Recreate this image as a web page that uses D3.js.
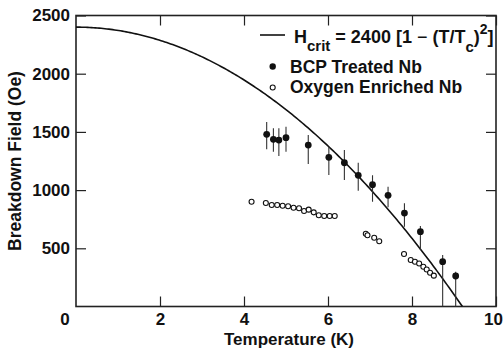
<!DOCTYPE html>
<html><head><meta charset="utf-8">
<script src="https://cdn.jsdelivr.net/npm/d3@7/dist/d3.min.js"></script>
<style>
body{margin:0;background:#fff;}
svg text{font-family:"Liberation Sans",Arial,Helvetica,sans-serif;font-weight:bold;fill:#111;}
</style></head>
<body><svg id="c" width="504" height="354"></svg>
<script>
// BCP treated Nb (filled circles with error bars)
const T_bcp  = [4.54,4.70,4.83,5.00,5.53,6.02,6.39,6.72,7.06,7.43,7.82,8.20,8.73,9.04];
const H_bcp  = [1479,1436,1430,1450,1387,1282,1235,1127,1046,955,803,643,385,262];
const H_bcpHi= [1585,1531,1531,1545,1473,1373,1345,1235,1127,1029,887,692,442,299];
const H_bcpLo= [1350,1330,1293,1330,1224,1130,1087,995,900,852,686,485,0,0];
// Oxygen enriched Nb (open circles)
const T_oxy = [4.18,4.52,4.66,4.79,4.92,5.05,5.18,5.31,5.43,5.54,5.66,5.78,5.91,6.04,6.16,
               6.90,6.94,7.10,7.22,
               7.81,7.97,8.07,8.17,8.27,8.35,8.43,8.52];
const H_oxy = [900,889,872,872,866,861,849,844,820,832,809,784,778,778,778,
               625,612,591,560,
               451,399,385,370,342,318,290,265];
// critical field model
const H0 = 2400, Tc = 9.2;
const xTicks = [2,4,6,8,10];
const yTicks = [500,1000,1500,2000,2500];

const svg = d3.select("#c");
const L=76, R=496, T=15.5, B=306.5;
const x = d3.scaleLinear().domain([0,10]).range([L,R]);
const y = d3.scaleLinear().domain([0,2500]).range([B,T]);

const defs = svg.append("defs");
defs.append("clipPath").attr("id","clip").append("rect")
  .attr("x",L).attr("y",T).attr("width",R-L).attr("height",B-T);

// axes with inward ticks
const fs = "17px";
const gx = svg.append("g").attr("transform",`translate(0,${B})`)
  .call(d3.axisBottom(x).tickValues(xTicks).tickSize(-10).tickPadding(6).tickFormat(d3.format("d")));
gx.selectAll("text").filter(d=>d===10).attr("x",-3);
svg.append("g").attr("transform",`translate(0,${T})`)
  .call(d3.axisTop(x).tickValues(xTicks).tickSize(-10).tickFormat(""));
svg.append("g").attr("transform",`translate(${L},0)`)
  .call(d3.axisLeft(y).tickValues(yTicks).tickSize(-10).tickPadding(6).tickFormat(d3.format("d")));
svg.append("g").attr("transform",`translate(${R},0)`)
  .call(d3.axisRight(y).tickValues(yTicks).tickSize(-10).tickFormat(""));
svg.selectAll(".domain").remove();
svg.selectAll(".tick line").attr("stroke","#222").attr("stroke-width",1.2);
svg.selectAll(".tick text").style("font-size",fs).attr("fill","#111");

svg.append("text").attr("x",65).attr("y",325).attr("text-anchor","middle").style("font-size",fs).text("0");

// frame
svg.append("rect").attr("x",L).attr("y",T).attr("width",R-L).attr("height",B-T)
  .attr("fill","none").attr("stroke","#222").attr("stroke-width",1.6);

// axis titles
svg.append("text").attr("x",(L+R)/2+3).attr("y",345).attr("text-anchor","middle")
  .style("font-size","17px").text("Temperature (K)");
svg.append("text").attr("transform",`translate(21,${(T+B)/2}) rotate(-90)`).attr("text-anchor","middle")
  .style("font-size","17.5px").text("Breakdown Field (Oe)");

const plot = svg.append("g").attr("clip-path","url(#clip)");

// model curve
const Tgrid = d3.range(0, Tc+0.001, Tc/200);
plot.append("path").datum(Tgrid)
  .attr("d", d3.line().x(t=>x(t)).y(t=>y(H0*(1-(t/Tc)*(t/Tc)))))
  .attr("fill","none").attr("stroke","#111").attr("stroke-width",1.6);

// error bars
plot.selectAll("line.err").data(T_bcp).join("line").attr("class","err")
  .attr("x1",t=>x(t)).attr("x2",t=>x(t))
  .attr("y1",(t,i)=>y(H_bcpHi[i])).attr("y2",(t,i)=>y(H_bcpLo[i]))
  .attr("stroke","#333").attr("stroke-width",1.1);

// filled points
plot.selectAll("circle.bcp").data(T_bcp).join("circle").attr("class","bcp")
  .attr("cx",t=>x(t)).attr("cy",(t,i)=>y(H_bcp[i])).attr("r",3.4).attr("fill","#111");

// open points
plot.selectAll("circle.oxy").data(T_oxy).join("circle").attr("class","oxy")
  .attr("cx",t=>x(t)).attr("cy",(t,i)=>y(H_oxy[i])).attr("r",2.5)
  .attr("fill","#fff").attr("stroke","#111").attr("stroke-width",1.1);

// legend
const lg = svg.append("g");
lg.append("line").attr("x1",260).attr("x2",285).attr("y1",35).attr("y2",35)
  .attr("stroke","#111").attr("stroke-width",1.6);
const f = lg.append("text").attr("x",294).attr("y",43).style("font-size","18px");
f.append("tspan").text("H");
f.append("tspan").attr("dy",8).style("font-size","15px").text("crit");
f.append("tspan").attr("dy",-8).text(" = 2400 [1 ");
f.append("tspan").style("font-weight","normal").text("\u2212");
f.append("tspan").text(" (T/T");
f.append("tspan").attr("dy",9).style("font-size","15px").text("c");
f.append("tspan").attr("dy",-9).text(")");
f.append("tspan").attr("dy",-9).style("font-size","14px").text("2");
f.append("tspan").attr("dy",9).text("]");

lg.append("circle").attr("cx",272.7).attr("cy",66.5).attr("r",3.2).attr("fill","#111");
lg.append("text").attr("x",290).attr("y",72.5).style("font-size","17.5px").text("BCP Treated Nb");
lg.append("circle").attr("cx",272.7).attr("cy",87.5).attr("r",2.5).attr("fill","#fff")
  .attr("stroke","#111").attr("stroke-width",1.1);
lg.append("text").attr("x",290).attr("y",92.5).style("font-size","17.5px").text("Oxygen Enriched Nb");
</script></body></html>
